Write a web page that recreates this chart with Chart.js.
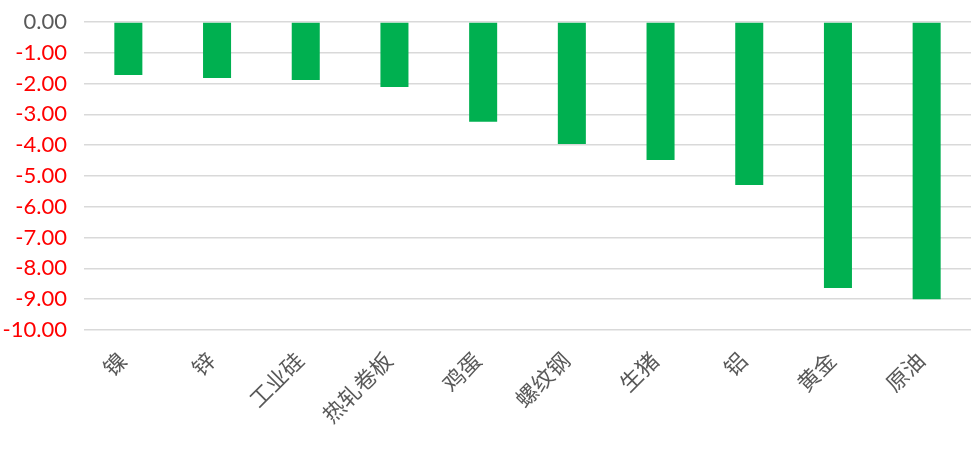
<!DOCTYPE html>
<html>
<head>
<meta charset="utf-8">
<script src="https://cdn.jsdelivr.net/npm/chart.js@4"></script>
<style>
html,body{margin:0;padding:0;background:#fff;}
#wrap{width:971px;height:451px;position:relative;}
</style>
</head>
<body>
<div id="wrap"><canvas id="c"></canvas></div>
<script>
const categories = ["镍","锌","工业硅","热轧卷板","鸡蛋","螺纹钢","生猪","铝","黄金","原油"];
const values = [-1.72,-1.82,-1.88,-2.11,-3.24,-3.96,-4.48,-5.29,-8.64,-9.0];
const yMin = -10, yMax = 0, yStep = 1;

new Chart(document.getElementById('c'), {
  type: 'bar',
  data: {
    labels: categories,
    datasets: [{
      data: values,
      backgroundColor: '#00B050',
      borderWidth: 0,
      categoryPercentage: 1,
      barPercentage: 0.316
    }]
  },
  options: {
    responsive: true,
    maintainAspectRatio: false,
    animation: false,
    layout: { padding: { top: 22, right: 0, left: 0, bottom: 0 } },
    plugins: { legend: { display: false }, tooltip: { enabled: false } },
    scales: {
      x: {
        grid: { display: false, drawTicks: false },
        border: { display: false },
        ticks: {
          minRotation: 45, maxRotation: 45,
          color: '#595959',
          padding: 17,
          labelOffset: -6,
          font: { family: '"Noto Sans CJK SC"', size: 22 }
        },
        afterFit: s => { s.height = 121; s.paddingLeft = 0; s.paddingRight = 0; }
      },
      y: {
        min: yMin, max: yMax,
        grid: { color: '#D9D9D9', lineWidth: 1.5, drawTicks: false },
        border: { display: false },
        ticks: {
          stepSize: yStep,
          padding: 17,
          color: ctx => ctx.tick.value < 0 ? '#FF0000' : '#595959',
          font: { family: 'Lato', size: 22 },
          callback: v => v.toFixed(2)
        },
        afterFit: s => { s.width = 84; s.paddingTop = 0; s.paddingBottom = 0; }
      }
    }
  }
});
</script>
</body>
</html>
